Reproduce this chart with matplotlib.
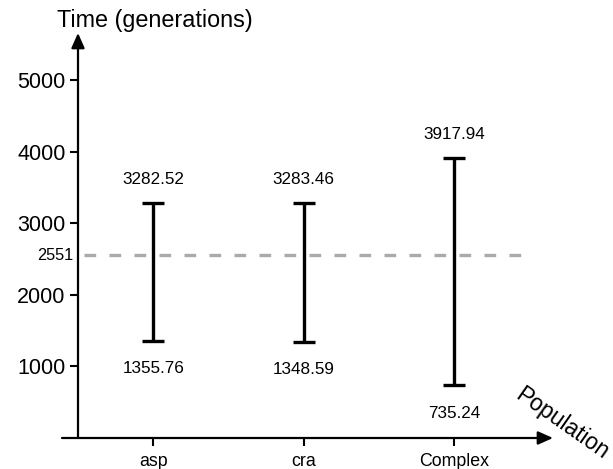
import numpy as np
import matplotlib
matplotlib.use("Agg")
import matplotlib.pyplot as plt

plt.rcParams['font.family'] = ['Liberation Sans', 'DejaVu Sans']

# data
populations = ["asp", "cra", "Complex"]
lower = [1355.76, 1348.59, 735.24]
upper = [3282.52, 3283.46, 3917.94]
threshold = 2551
yticks = [1000, 2000, 3000, 4000, 5000]

W, H = 613, 469
fig = plt.figure(figsize=(W / 100, H / 100), dpi=100)
# axes box: y axis at x=78px, x axis at y=438px, arrow tips at x=553 / y=33
ax = fig.add_axes([78 / W, (H - 438) / H, (553 - 78) / W, (438 - 33) / H])

x = np.arange(1, len(populations) + 1)
lo = np.array(lower)
hi = np.array(upper)
mid = (lo + hi) / 2
ax.errorbar(x, mid, yerr=(hi - lo) / 2, fmt="none", ecolor="black",
            elinewidth=2.4, capsize=8, capthick=2.4)

ax.hlines(threshold, 0.54, 3.445, color="#aaaaaa", lw=2.4,
          linestyles=(0, (3.5, 4)))

for xi, l, h in zip(x, lower, upper):
    ax.annotate(f"{h:.2f}", (xi, h), xytext=(0, 17), textcoords="offset points",
                ha="center", va="center", fontsize=12.3)
    ax.annotate(f"{l:.2f}", (xi, l), xytext=(0, -20), textcoords="offset points",
                ha="center", va="center", fontsize=12.3)

ax.set_xlim(0.5, 3.657)
ax.set_ylim(0, 5660)
ax.set_xticks(x)
ax.set_xticklabels(populations, fontsize=12.8)
ax.set_yticks(yticks)
ax.set_yticklabels([str(t) for t in yticks], fontsize=15.5)
ax.tick_params(axis="y", width=1.5, length=6, pad=3)
ax.tick_params(axis="x", width=1.5, length=6, pad=5)

for s in ax.spines.values():
    s.set_visible(False)

# axis lines with arrow heads
arrow = dict(arrowstyle="-|>,head_length=0.9,head_width=0.4", color="black",
             lw=1.6, shrinkA=0, shrinkB=0)
ax.annotate("", xy=(0, 1), xytext=(0, 0), xycoords="axes fraction",
            arrowprops=arrow)
ax.annotate("", xy=(1, 0), xytext=(-16 / 475, 0), xycoords="axes fraction",
            arrowprops=arrow)

# threshold label to the left of the y axis
ax.text(-0.01, threshold, str(threshold), transform=ax.get_yaxis_transform(),
        ha="right", va="center", fontsize=11.7)

fig.text(155 / W, 1 - 20 / H, "Time (generations)", ha="center", va="center",
         fontsize=16.8)
fig.text(562 / W, 1 - 424 / H, "Population", ha="center", va="center",
         fontsize=16.5, rotation=-35, rotation_mode="anchor")

fig.savefig("out.png", dpi=100)
